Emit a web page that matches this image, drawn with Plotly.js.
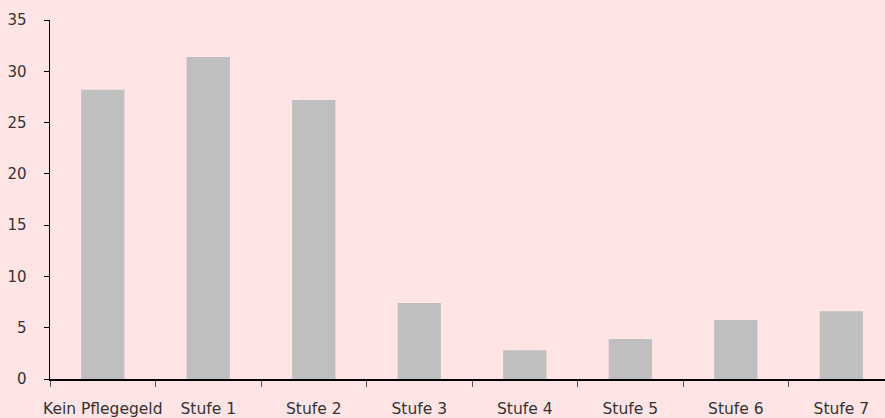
<!DOCTYPE html>
<html>
<head>
<meta charset="utf-8">
<script src="https://cdn.plot.ly/plotly-3.0.1.min.js"></script>
<style>html,body{margin:0;padding:0;background:#FFE4E6;}#chart{width:885px;height:418px;}</style>
</head>
<body>
<div id="chart"></div>
<script>
const categories = ["Kein Pflegegeld", "Stufe 1", "Stufe 2", "Stufe 3", "Stufe 4", "Stufe 5", "Stufe 6", "Stufe 7"];
const values = [28.2, 31.4, 27.2, 7.4, 2.8, 3.9, 5.75, 6.6];
const yTicks = [0, 5, 10, 15, 20, 25, 30, 35];

const trace = {
  type: "bar",
  x: categories,
  y: values,
  width: 0.41,
  marker: {color: "#BFBFBF", line: {width: 0}},
  hoverinfo: "x+y"
};

const layout = {
  width: 885,
  height: 418,
  paper_bgcolor: "#FFE4E6",
  plot_bgcolor: "#FFE4E6",
  margin: {l: 50, r: 0, t: 20, b: 39},
  showlegend: false,
  font: {family: "'DejaVu Sans', sans-serif", size: 15, color: "#333333"},
  xaxis: {
    type: "category",
    range: [-0.5, 7.414],
    tickson: "boundaries",
    tickangle: 0,
    automargin: false,
    ticks: "outside",
    ticklen: 6,
    tickcolor: "#555555",
    showline: true,
    linecolor: "#000000",
    linewidth: 1.5,
    showgrid: false,
    zeroline: false,
    ticklabelstandoff: 15,
    tickfont: {size: 15.5, color: "#333333"}
  },
  yaxis: {
    range: [0, 35],
    tickvals: yTicks,
    ticktext: yTicks.map(String),
    automargin: false,
    ticks: "outside",
    ticklen: 5,
    tickcolor: "#000000",
    showline: true,
    linecolor: "#000000",
    linewidth: 1.5,
    showgrid: false,
    zeroline: false,
    ticklabelstandoff: 14,
    tickfont: {size: 15, color: "#333333"}
  }
};

Plotly.newPlot("chart", [trace], layout, {displayModeBar: false, staticPlot: true});
</script>
</body>
</html>
